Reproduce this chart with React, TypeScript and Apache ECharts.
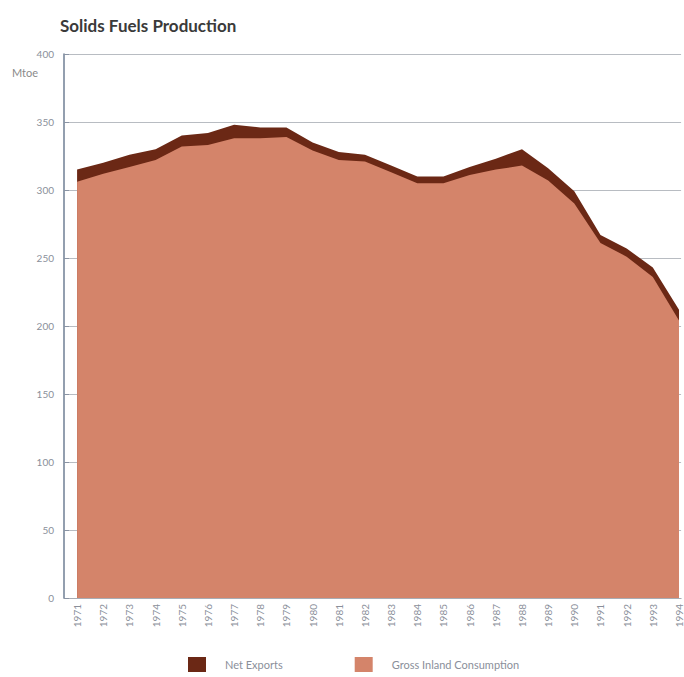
import React, { useEffect, useRef } from "react";
import * as echarts from "echarts";

const years = [
  1971, 1972, 1973, 1974, 1975, 1976, 1977, 1978, 1979, 1980,
  1981, 1982, 1983, 1984, 1985, 1986, 1987, 1988, 1989, 1990,
  1991, 1992, 1993, 1994,
];
const grossInlandConsumption = [
  306, 312, 317, 322, 332, 333, 338, 338, 339, 329,
  322, 321, 313, 305, 305, 311, 315, 318, 307, 290,
  261, 251, 236, 204,
];
const netExports = [
  9, 8, 9, 8, 8, 9, 10, 8, 7, 6,
  6, 5, 5, 5, 5, 6, 8, 12, 9, 9,
  6, 6, 7, 8,
];

const FONT = "Lato, 'Open Sans', sans-serif";

export default function App() {
  const ref = useRef<HTMLDivElement>(null);
  useEffect(() => {
    if (!ref.current) return;
    const chart = echarts.init(ref.current, undefined, { renderer: "svg" });
    // Net exports are stacked on top of gross inland consumption:
    // the dark band spans from GIC up to GIC + net exports.
    const gicData = years.map((y, i) => [y, grossInlandConsumption[i]]);
    const stackedTopData = years.map((y, i) => [y, grossInlandConsumption[i] + netExports[i]]);
    chart.setOption({
      animation: false,
      backgroundColor: "#ffffff",
      title: {
        text: "Solids Fuels Production",
        left: 55,
        top: 12,
        textStyle: { fontFamily: FONT, fontSize: 17, fontWeight: "bold", color: "#3a3a3a" },
      },
      graphic: [
        {
          type: "text",
          left: 12,
          top: 67,
          style: { text: "Mtoe", fontFamily: FONT, fontSize: 11, fill: "#8a8a8a" },
        },
      ],
      legend: {
        bottom: 0,
        left: 183,
        itemWidth: 18,
        itemHeight: 15,
        itemGap: 72,
        icon: "rect",
        textStyle: { fontFamily: FONT, fontSize: 11, color: "#8a8f9a", padding: [0, 0, 0, 14] },
        data: ["Net Exports", "Gross Inland Consumption"],
      },
      grid: { left: 64, top: 54, right: 0, bottom: 79 },
      xAxis: {
        type: "value",
        min: 1970.5,
        max: 1994.08,
        interval: 0.5,
        axisLine: { show: true, lineStyle: { color: "#a8acb4", width: 1 } },
        axisTick: { show: false },
        axisLabel: {
          rotate: 90,
          margin: 6,
          fontFamily: FONT,
          fontSize: 10,
          color: "#8a8f9a",
          formatter: (v: number) => (Number.isInteger(v) ? String(v) : ""),
        },
        splitLine: { show: false },
      },
      yAxis: {
        type: "value",
        min: 0,
        max: 400,
        interval: 50,
        axisLine: { show: true, lineStyle: { color: "#6f7f94", width: 1.5 } },
        axisTick: { show: true, inside: true, length: 5, lineStyle: { color: "#8a94a4" } },
        axisLabel: { fontFamily: FONT, fontSize: 10, color: "#8a8f9a", margin: 10 },
        splitLine: { show: true, lineStyle: { color: "#b8bcc2", width: 1 } },
      },
      series: [
        {
          name: "Net Exports",
          type: "line",
          data: stackedTopData,
          symbol: "none",
          lineStyle: { width: 0 },
          itemStyle: { color: "#6b2815" },
          areaStyle: { color: "#6b2815", opacity: 1 },
          z: 2,
        },
        {
          name: "Gross Inland Consumption",
          type: "line",
          data: gicData,
          symbol: "none",
          lineStyle: { width: 0 },
          itemStyle: { color: "#d4846a" },
          areaStyle: { color: "#d4846a", opacity: 1 },
          z: 3,
        },
      ],
    });
    return () => chart.dispose();
  }, []);
  return (
    <div
      ref={ref}
      style={{ position: "fixed", left: 0, top: 0, width: 684, height: 677 }}
    />
  );
}
